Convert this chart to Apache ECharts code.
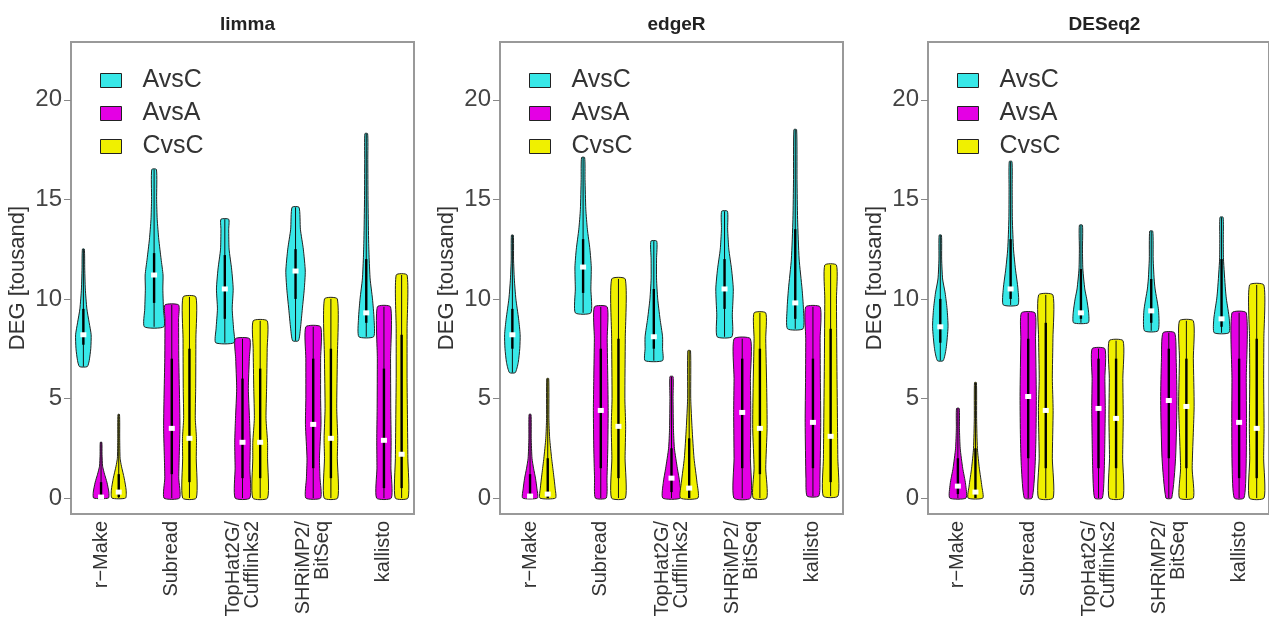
<!DOCTYPE html>
<html>
<head>
<meta charset="utf-8">
<script src="https://cdn.jsdelivr.net/npm/echarts@6/dist/echarts.min.js"></script>
<style>
  html, body { margin: 0; background: #fff; }
  #chart { width: 1269px; height: 630px; }
</style>
</head>
<body>
<div id="chart"></div>
<script>
const methods = ["limma", "edgeR", "DESeq2"];
const comparisons = ["AvsC", "AvsA", "CvsC"];
const pipelines = ["r\u2212Make", "Subread", "TopHat2G/\nCufflinks2", "SHRiMP2/\nBitSeq", "kallisto"];
const yTicks = [0, 5, 10, 15, 20];

// stats per pipeline: [q1, median, q3]
// shapes per pipeline: [[DEG (thousand), half width], ...] from min to max
const limmaAvsCStats = [[7.7, 8.2, 9.5], [9.8, 11.2, 12.3], [9.0, 10.5, 12.2], [10.0, 11.4, 12.5], [8.8, 9.3, 12.0]];
const limmaAvsCShapes = [
  [[6.6, 0.2], [6.9, 0.3], [7.5, 0.38], [8.2, 0.4], [8.8, 0.3], [9.5, 0.18], [10.5, 0.1], [11.5, 0.07], [12.5, 0.05]],
  [[8.6, 0.5], [9.5, 0.48], [10.5, 0.45], [11.2, 0.46], [12, 0.36], [13, 0.24], [14, 0.16], [15, 0.13], [16.5, 0.12]],
  [[7.8, 0.47], [8.5, 0.45], [9.5, 0.38], [10.5, 0.43], [11.5, 0.35], [12.5, 0.22], [13.5, 0.2], [14, 0.2]],
  [[7.9, 0.15], [8.5, 0.25], [9.5, 0.35], [10.5, 0.45], [11.4, 0.5], [12.5, 0.4], [13.5, 0.25], [14.6, 0.18]],
  [[8.1, 0.38], [9, 0.4], [10, 0.32], [11, 0.2], [12, 0.15], [13, 0.12], [15, 0.09], [17, 0.08], [18.3, 0.07]]
];
const limmaAvsAStats = [[0, 0.05, 0.8], [1.2, 3.5, 7.0], [1.0, 2.8, 6.0], [1.5, 3.7, 7.0], [0.5, 2.9, 6.5]];
const limmaAvsAShapes = [
  [[0, 0.38], [0.3, 0.4], [0.8, 0.3], [1.2, 0.18], [1.6, 0.08], [2.2, 0.05], [2.8, 0.04]],
  [[0, 0.4], [1, 0.36], [2, 0.38], [3.5, 0.42], [5, 0.4], [7, 0.36], [9, 0.35], [9.7, 0.35]],
  [[0, 0.38], [1.5, 0.38], [2.8, 0.4], [4, 0.36], [5.5, 0.3], [7, 0.35], [8, 0.37]],
  [[0, 0.38], [1, 0.35], [2, 0.32], [3.7, 0.4], [5, 0.38], [7, 0.38], [8.6, 0.38]],
  [[0, 0.38], [1.5, 0.36], [2.9, 0.37], [4.5, 0.35], [7, 0.34], [9.6, 0.34]]
];
const limmaCvsCStats = [[0.05, 0.3, 1.2], [0.8, 3.0, 7.5], [1.0, 2.8, 6.5], [1.0, 3.0, 7.5], [0.5, 2.2, 8.2]];
const limmaCvsCShapes = [
  [[0, 0.35], [0.4, 0.38], [1.0, 0.28], [1.6, 0.14], [2.0, 0.07], [3, 0.05], [4.2, 0.04]],
  [[0, 0.35], [2, 0.35], [3, 0.36], [4, 0.3], [5.5, 0.32], [8, 0.33], [10.1, 0.33]],
  [[0, 0.38], [2, 0.38], [2.8, 0.38], [4, 0.3], [5.5, 0.33], [7.5, 0.36], [8.9, 0.36]],
  [[0, 0.35], [2, 0.33], [3, 0.35], [4.5, 0.3], [7, 0.33], [10, 0.33]],
  [[0, 0.33], [2, 0.32], [4, 0.3], [6, 0.28], [8.5, 0.28], [11.2, 0.28]]
];

const edgeRAvsCStats = [[7.5, 8.2, 9.5], [10.3, 11.6, 13.0], [7.5, 8.1, 10.5], [9.5, 10.5, 12.0], [9.0, 9.8, 13.5]];
const edgeRAvsCShapes = [
  [[6.3, 0.15], [6.8, 0.3], [7.5, 0.38], [8.2, 0.4], [9, 0.32], [10, 0.18], [11, 0.1], [12, 0.06], [13.2, 0.05]],
  [[9.3, 0.4], [10.5, 0.4], [11.6, 0.42], [12.5, 0.35], [13.5, 0.22], [14.5, 0.14], [16, 0.1], [17.1, 0.08]],
  [[6.9, 0.45], [7.5, 0.45], [8.1, 0.45], [9, 0.32], [10, 0.2], [11, 0.14], [12, 0.14], [12.9, 0.15]],
  [[8.1, 0.38], [9.2, 0.4], [10.5, 0.45], [11.5, 0.36], [12.5, 0.22], [13.5, 0.16], [14.4, 0.15]],
  [[8.5, 0.4], [9.5, 0.42], [10.5, 0.35], [12, 0.2], [14, 0.12], [16, 0.09], [18.5, 0.07]]
];
const edgeRAvsAStats = [[0, 0.1, 1.2], [1.5, 4.4, 7.5], [0.3, 1.0, 2.5], [1.5, 4.3, 7.0], [1.5, 3.8, 7.0]];
const edgeRAvsAShapes = [
  [[0, 0.38], [0.5, 0.35], [1, 0.28], [1.5, 0.18], [2, 0.1], [3, 0.06], [4.2, 0.05]],
  [[0, 0.28], [1, 0.32], [2.5, 0.36], [4.4, 0.38], [6, 0.36], [8, 0.33], [9.6, 0.33]],
  [[0, 0.45], [0.8, 0.42], [1.5, 0.3], [2.5, 0.15], [3.5, 0.1], [5, 0.08], [6.1, 0.08]],
  [[0, 0.43], [2, 0.42], [4.3, 0.44], [6, 0.42], [8, 0.42]],
  [[0.1, 0.3], [1, 0.36], [3.8, 0.4], [6, 0.38], [8, 0.37], [9.6, 0.37]]
];
const edgeRCvsCStats = [[0, 0.2, 2.0], [1.0, 3.6, 8.0], [0, 0.5, 3.0], [1.2, 3.5, 7.5], [0.8, 3.1, 8.5]];
const edgeRCvsCShapes = [
  [[0, 0.4], [0.5, 0.38], [1.2, 0.3], [2, 0.2], [3, 0.1], [4, 0.06], [6, 0.05]],
  [[0, 0.36], [2, 0.34], [3.6, 0.37], [5, 0.33], [8, 0.35], [11, 0.35]],
  [[0, 0.45], [0.8, 0.4], [2, 0.25], [3.5, 0.15], [5, 0.08], [7.4, 0.07]],
  [[0, 0.35], [1.5, 0.3], [3.5, 0.37], [5.5, 0.35], [8, 0.3], [9.3, 0.3]],
  [[0.1, 0.38], [2, 0.37], [4, 0.35], [7, 0.32], [10, 0.3], [11.7, 0.3]]
];

const deseqAvsCStats = [[7.8, 8.6, 10.0], [10.0, 10.5, 13.0], [9.0, 9.3, 11.5], [8.8, 9.4, 11.0], [8.6, 9.0, 12.0]];
const deseqAvsCShapes = [
  [[6.9, 0.15], [7.5, 0.3], [8.6, 0.4], [9.5, 0.35], [10.3, 0.25], [11, 0.12], [12, 0.07], [13.2, 0.06]],
  [[9.7, 0.38], [10.5, 0.38], [11.5, 0.25], [12.5, 0.15], [14, 0.09], [15.5, 0.08], [16.9, 0.07]],
  [[8.8, 0.38], [9.3, 0.4], [10, 0.3], [10.5, 0.2], [11.5, 0.1], [12.5, 0.08], [13.7, 0.08]],
  [[8.4, 0.35], [9.4, 0.38], [10.5, 0.2], [11, 0.15], [12, 0.1], [13.4, 0.08]],
  [[8.3, 0.38], [9, 0.4], [10, 0.25], [10.5, 0.2], [12, 0.1], [13, 0.09], [14.1, 0.08]]
];
const deseqAvsAStats = [[0.2, 0.6, 2.0], [2.0, 5.1, 8.0], [1.5, 4.5, 7.0], [2.0, 4.9, 7.5], [1.0, 3.8, 7.0]];
const deseqAvsAShapes = [
  [[0, 0.42], [0.7, 0.4], [1.5, 0.25], [2.5, 0.12], [3.5, 0.08], [4.5, 0.07]],
  [[0, 0.2], [1.5, 0.35], [3, 0.4], [5.1, 0.42], [8, 0.38], [9.3, 0.35]],
  [[0, 0.2], [1.5, 0.3], [3, 0.33], [4.5, 0.35], [6, 0.33], [7.5, 0.33]],
  [[0, 0.15], [2, 0.35], [4.9, 0.42], [7, 0.38], [8.3, 0.3]],
  [[0, 0.25], [1.5, 0.36], [3.8, 0.38], [6, 0.37], [9.3, 0.37]]
];
const deseqCvsCStats = [[0, 0.3, 2.5], [1.5, 4.4, 8.8], [1.5, 4.0, 7.0], [1.5, 4.6, 7.0], [1.0, 3.5, 8.0]];
const deseqCvsCShapes = [
  [[0, 0.38], [0.6, 0.33], [1.5, 0.2], [2.5, 0.1], [4, 0.06], [5.8, 0.05]],
  [[0, 0.38], [2, 0.34], [4.4, 0.38], [6, 0.34], [8, 0.37], [10.2, 0.37]],
  [[0, 0.36], [2, 0.34], [4, 0.37], [6, 0.35], [7.9, 0.36]],
  [[0, 0.36], [1.5, 0.3], [4.6, 0.4], [7, 0.36], [8.9, 0.36]],
  [[0, 0.38], [2, 0.36], [3.5, 0.38], [6, 0.36], [8, 0.37], [10.7, 0.37]]
];

const panelData = [
  [[limmaAvsCStats, limmaAvsCShapes], [limmaAvsAStats, limmaAvsAShapes], [limmaCvsCStats, limmaCvsCShapes]],
  [[edgeRAvsCStats, edgeRAvsCShapes], [edgeRAvsAStats, edgeRAvsAShapes], [edgeRCvsCStats, edgeRCvsCShapes]],
  [[deseqAvsCStats, deseqAvsCShapes], [deseqAvsAStats, deseqAvsAShapes], [deseqCvsCStats, deseqCvsCShapes]]
];

const fills = ["#38e8e8", "#e400e4", "#f0f000"];
const font = "Liberation Sans, Arial, sans-serif";
const widthScale = 1.1;
const grids = [
  { left: 71, top: 42, width: 343, height: 472 },
  { left: 500, top: 42, width: 343, height: 472 },
  { left: 928, top: 42, width: 343, height: 472 }
];

function violinRenderer(stats, shapes, comp, fill) {
  return function (params, api) {
    const i = api.value(0);
    const xc = i * 4 + 1 + comp;
    const shape = shapes[i];
    const st = stats[i];
    const unit = api.size([1, 0])[0] * widthScale;
    const cx = api.coord([xc, 0])[0];
    const right = shape.map(function (p) {
      return [cx + p[1] * unit, api.coord([xc, p[0]])[1]];
    });
    const left = shape.slice().reverse().map(function (p) {
      return [cx - p[1] * unit, api.coord([xc, p[0]])[1]];
    });
    const yMin = api.coord([xc, shape[0][0]])[1];
    const yMax = api.coord([xc, shape[shape.length - 1][0]])[1];
    const q1 = api.coord([xc, st[0]])[1];
    const med = api.coord([xc, st[1]])[1];
    const q3 = api.coord([xc, st[2]])[1];
    return {
      type: "group",
      children: [
        { type: "polygon", shape: { points: right.concat(left), smooth: 0.2 },
          style: { fill: fill, stroke: "#222", lineWidth: 1 } },
        { type: "line", shape: { x1: cx, y1: yMin, x2: cx, y2: yMax },
          style: { stroke: "#111", lineWidth: 1 } },
        { type: "rect", shape: { x: cx - 1.2, y: q3, width: 2.4, height: Math.max(q1 - q3, 1) },
          style: { fill: "#000" } },
        { type: "rect", shape: { x: cx - 3, y: med - 2.5, width: 6, height: 5 },
          style: { fill: "#fff" } }
      ]
    };
  };
}

const chart = echarts.init(document.getElementById("chart"));

const series = [];
panelData.forEach(function (panel, k) {
  panel.forEach(function (pair, c) {
    series.push({
      type: "custom",
      name: comparisons[c],
      xAxisIndex: k,
      yAxisIndex: k,
      data: pipelines.map(function (p, i) { return [i]; }),
      itemStyle: { color: fills[c], borderColor: "#222", borderWidth: 1 },
      renderItem: violinRenderer(pair[0], pair[1], c, fills[c])
    });
  });
});

const option = {
  animation: false,
  textStyle: { fontFamily: font },
  title: methods.map(function (m, k) {
    return {
      text: m,
      left: grids[k].left + grids[k].width / 2,
      top: 10,
      textAlign: "center",
      textStyle: { fontSize: 19, fontWeight: "bold", color: "#222", fontFamily: font }
    };
  }),
  legend: grids.map(function (g) {
    return {
      data: comparisons,
      orient: "vertical",
      left: g.left + 24,
      top: 63,
      icon: "rect",
      itemWidth: 21,
      itemHeight: 14,
      itemGap: 8,
      selectedMode: false,
      itemStyle: { borderColor: "#222", borderWidth: 1 },
      textStyle: { fontSize: 25, color: "#333", fontFamily: font, padding: [0, 0, 0, 16] }
    };
  }),
  grid: grids.map(function (g) {
    return Object.assign({ show: true, borderColor: "#999", borderWidth: 2, backgroundColor: "transparent" }, g);
  }),
  xAxis: grids.map(function (g, k) {
    return {
      gridIndex: k,
      type: "value",
      min: 0.3,
      max: 19.7,
      axisLine: { show: false },
      axisTick: { show: false },
      splitLine: { show: false },
      axisLabel: {
        customValues: [2, 6, 10, 14, 18],
        rotate: 90,
        margin: 7,
        fontSize: 20,
        lineHeight: 19,
        color: "#333",
        fontFamily: font,
        formatter: function (v) { return pipelines[Math.round((v - 2) / 4)]; }
      }
    };
  }),
  yAxis: grids.map(function (g, k) {
    return {
      gridIndex: k,
      type: "value",
      min: -0.8,
      max: 22.9,
      axisLine: { show: false },
      axisTick: { show: true, length: 7, customValues: yTicks, lineStyle: { color: "#888" } },
      axisLabel: { customValues: yTicks, fontSize: 24, color: "#444", margin: 9, fontFamily: font },
      splitLine: { show: false },
      name: "DEG [tousand]",
      nameLocation: "middle",
      nameGap: 42,
      nameTextStyle: { fontSize: 22, color: "#333", fontFamily: font }
    };
  }),
  series: series
};

chart.setOption(option);
</script>
</body>
</html>
